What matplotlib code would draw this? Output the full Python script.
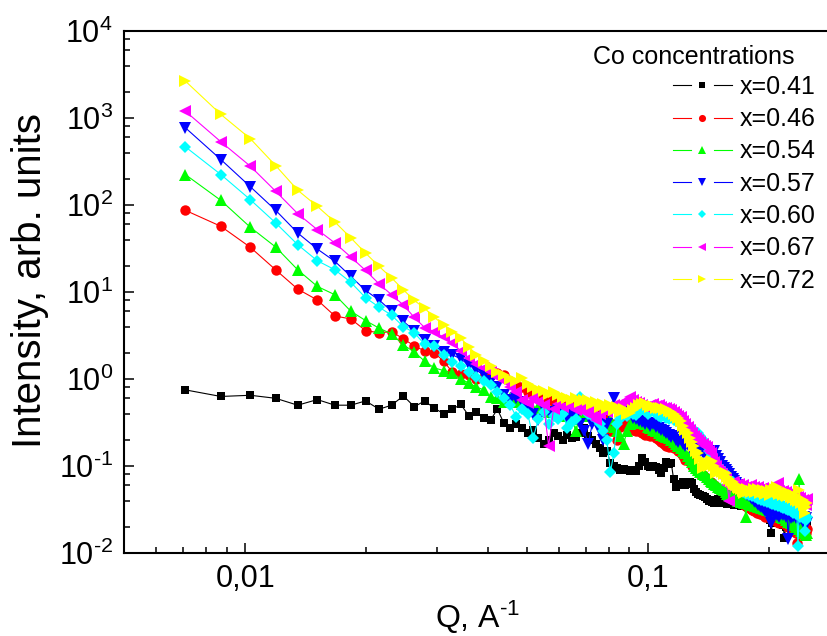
import math
import matplotlib
matplotlib.use("Agg")
import matplotlib.pyplot as plt
from matplotlib.ticker import LogLocator, FixedLocator, FuncFormatter, NullFormatter
from matplotlib.legend_handler import HandlerLine2D
from matplotlib.lines import Line2D

plt.rcParams["font.family"] = ["Liberation Sans", "DejaVu Sans"]
plt.rcParams["mathtext.fontset"] = "custom"
plt.rcParams["mathtext.rm"] = "Liberation Sans"
plt.rcParams["mathtext.it"] = "Liberation Sans"
plt.rcParams["mathtext.default"] = "regular"

# Scattering vector, 1/A
q = [
    0.0071, 0.0087, 0.0103, 0.0119, 0.0135, 0.0151, 0.0167, 0.0183, 0.0199, 0.0215,
    0.0231, 0.0247, 0.0263, 0.0279, 0.0295, 0.0311, 0.0327, 0.0343, 0.0359, 0.0375,
    0.0391, 0.0407, 0.0423, 0.0439, 0.0455, 0.0471, 0.0487, 0.0503, 0.0519, 0.0535,
    0.0551, 0.0567, 0.0583, 0.0599, 0.0615, 0.0631, 0.0647, 0.0663, 0.0679, 0.0695,
    0.0711, 0.0727, 0.0743, 0.0759, 0.0775, 0.0791, 0.0807, 0.0823, 0.0839, 0.0855,
    0.0871, 0.0887, 0.0903, 0.0919, 0.0935, 0.0951, 0.0967, 0.0983, 0.0999, 0.1015,
    0.1031, 0.1047, 0.1063, 0.1079, 0.1095, 0.1111, 0.1127, 0.1143, 0.1159, 0.1175,
    0.1191, 0.1207, 0.1223, 0.1239, 0.1255, 0.1271, 0.1287, 0.1303, 0.1319, 0.1335,
    0.1351, 0.1367, 0.1383, 0.1399, 0.1415, 0.1431, 0.1447, 0.1463, 0.1479, 0.1495,
    0.1511, 0.1527, 0.1543, 0.1559, 0.1575, 0.1591, 0.1607, 0.1623, 0.1639, 0.1655,
    0.1671, 0.1687, 0.1703, 0.1719, 0.1735, 0.1751, 0.1767, 0.1783, 0.1799, 0.1815,
    0.1831, 0.1847, 0.1863, 0.1879, 0.1895, 0.1911, 0.1927, 0.1943, 0.1959, 0.1975,
    0.1991, 0.2007, 0.2023, 0.2039, 0.2055, 0.2071, 0.2087, 0.2103, 0.2119, 0.2135,
    0.2151, 0.2167, 0.2183, 0.2199, 0.2215, 0.2231, 0.2247, 0.2263, 0.2279, 0.2295,
    0.2311, 0.2327, 0.2343, 0.2359, 0.2375, 0.2391, 0.2407, 0.2423, 0.2439, 0.2455,
    0.2471, 0.2487,
]

# Intensity (arb. units) for each Co concentration
i_041 = [
    0.75, 0.63, 0.65, 0.60, 0.50, 0.58, 0.50, 0.50, 0.56, 0.45,
    0.50, 0.64, 0.48, 0.56, 0.46, 0.40, 0.45, 0.51, 0.38, 0.42,
    0.36, 0.34, 0.45, 0.31, 0.27, 0.30, 0.27, 0.24, 0.26, 0.21,
    0.18, 0.20, 0.24, 0.22, 0.20, 0.23, 0.21, 0.215, 0.24, 0.27,
    0.22, 0.20, 0.18, 0.16, 0.14, 0.15, 0.108, 0.10, 0.095, 0.09,
    0.092, 0.09, 0.087, 0.09, 0.087, 0.10, 0.123, 0.11, 0.10, 0.098,
    0.10, 0.097, 0.09, 0.083, 0.095, 0.11, 0.105, 0.108, 0.07, 0.057,
    0.06, 0.062, 0.065, 0.06, 0.062, 0.065, 0.063, 0.055, 0.05, 0.048,
    0.046, 0.045, 0.044, 0.042, 0.04, 0.041, 0.039, 0.038, 0.04, 0.042,
    0.04, 0.038, 0.041, 0.039, 0.037, 0.04, 0.042, 0.038, 0.036, 0.039,
    0.041, 0.037, 0.035, 0.038, 0.04, 0.036, 0.034, 0.037, 0.035, 0.033,
    0.036, 0.034, 0.032, 0.035, 0.033, 0.031, 0.034, 0.032, 0.03, 0.028,
    0.026, 0.024, 0.017, 0.022, 0.025, 0.023, 0.026, 0.024, 0.022, 0.025,
    0.023, 0.021, 0.015, 0.02, 0.024, 0.022, 0.025, 0.023, 0.021, 0.024,
    0.022, 0.025, 0.023, 0.021, 0.024, 0.026, 0.023, 0.025, 0.022, 0.024,
    0.026, 0.023,
]
i_046 = [
    86.9, 56.9, 32.6, 18.0, 10.8, 8.1, 5.3, 4.9, 3.6, 3.4,
    3.5, 2.9, 2.4, 2.1, 2.0, 1.6, 1.2, 1.15, 1.1, 1.0,
    1.05, 1.1, 1.17, 1.1, 0.95, 0.85, 0.8, 0.7, 0.65, 0.62,
    0.6, 0.6, 0.55, 0.5, 0.48, 0.5, 0.45, 0.5, 0.42, 0.38,
    0.45, 0.4, 0.35, 0.42, 0.3, 0.35, 0.25, 0.3, 0.2, 0.28,
    0.32, 0.3, 0.28, 0.26, 0.25, 0.25, 0.24, 0.23, 0.227, 0.22,
    0.23, 0.21, 0.2, 0.19, 0.18, 0.17, 0.165, 0.17, 0.16, 0.165,
    0.15, 0.14, 0.13, 0.117, 0.12, 0.11, 0.1, 0.095, 0.09, 0.085,
    0.08, 0.078, 0.075, 0.07, 0.068, 0.065, 0.062, 0.06, 0.058, 0.055,
    0.053, 0.052, 0.05, 0.048, 0.047, 0.046, 0.044, 0.043, 0.042, 0.041,
    0.04, 0.039, 0.038, 0.037, 0.036, 0.035, 0.034, 0.033, 0.032, 0.031,
    0.03, 0.031, 0.029, 0.03, 0.028, 0.029, 0.027, 0.028, 0.026, 0.027,
    0.026, 0.027, 0.025, 0.026, 0.024, 0.025, 0.023, 0.024, 0.022, 0.023,
    0.024, 0.022, 0.023, 0.021, 0.022, 0.02, 0.021, 0.019, 0.02, 0.018,
    0.019, 0.017, 0.013, 0.018, 0.02, 0.022, 0.019, 0.021, 0.018, 0.02,
    0.017, 0.019,
]
i_054 = [
    224, 113, 55.4, 32.9, 18.0, 11.6, 9.3, 6.0, 4.7, 3.84,
    3.3, 2.46, 2.05, 1.6, 1.34, 1.25, 1.17, 1.0, 0.9, 0.81,
    0.75, 0.62, 0.6, 0.54, 0.6, 0.55, 0.52, 0.5, 0.45, 0.48,
    0.46, 0.42, 0.45, 0.4, 0.43, 0.38, 0.35, 0.25, 0.4, 0.42,
    0.38, 0.4, 0.35, 0.37, 0.33, 0.3, 0.35, 0.28, 0.25, 0.22,
    0.18, 0.25, 0.3, 0.33, 0.35, 0.31, 0.34, 0.3, 0.28, 0.27,
    0.26, 0.25, 0.24, 0.23, 0.22, 0.215, 0.21, 0.2, 0.19, 0.18,
    0.17, 0.16, 0.15, 0.14, 0.13, 0.12, 0.11, 0.1, 0.095, 0.09,
    0.085, 0.08, 0.078, 0.075, 0.07, 0.068, 0.065, 0.062, 0.06, 0.058,
    0.056, 0.055, 0.053, 0.05, 0.048, 0.047, 0.045, 0.044, 0.043, 0.042,
    0.04, 0.041, 0.039, 0.04, 0.038, 0.026, 0.039, 0.037, 0.038, 0.036,
    0.037, 0.035, 0.036, 0.034, 0.035, 0.033, 0.034, 0.032, 0.033, 0.031,
    0.032, 0.03, 0.031, 0.029, 0.03, 0.028, 0.029, 0.027, 0.028, 0.026,
    0.027, 0.025, 0.026, 0.024, 0.025, 0.023, 0.024, 0.022, 0.023, 0.021,
    0.022, 0.02, 0.021, 0.019, 0.07, 0.02, 0.018, 0.019, 0.017, 0.018,
    0.016, 0.017,
]
i_057 = [
    773, 333, 162, 87, 47.7, 31.2, 22.5, 15.1, 10.4, 8.1,
    6.0, 4.6, 3.6, 2.8, 2.4, 2.05, 1.9, 1.7, 1.45, 1.27,
    1.1, 0.95, 0.8, 0.65, 0.57, 0.6, 0.55, 0.45, 0.4, 0.34,
    0.45, 0.42, 0.38, 0.44, 0.4, 0.36, 0.42, 0.38, 0.3, 0.25,
    0.18, 0.3, 0.35, 0.25, 0.2, 0.3, 0.45, 0.6, 0.4, 0.35,
    0.38, 0.42, 0.4, 0.36, 0.35, 0.33, 0.32, 0.3, 0.31, 0.29,
    0.3, 0.28, 0.27, 0.26, 0.25, 0.24, 0.23, 0.215, 0.22, 0.2,
    0.19, 0.2, 0.18, 0.17, 0.175, 0.16, 0.165, 0.155, 0.16, 0.15,
    0.15, 0.14, 0.145, 0.13, 0.14, 0.135, 0.145, 0.15, 0.13, 0.12,
    0.11, 0.1, 0.095, 0.09, 0.085, 0.08, 0.075, 0.07, 0.067, 0.064,
    0.06, 0.058, 0.055, 0.053, 0.05, 0.048, 0.046, 0.045, 0.043, 0.042,
    0.04, 0.039, 0.038, 0.036, 0.035, 0.034, 0.033, 0.032, 0.03, 0.029,
    0.028, 0.027, 0.022, 0.03, 0.028, 0.029, 0.027, 0.028, 0.026, 0.03,
    0.028, 0.027, 0.029, 0.026, 0.028, 0.0146, 0.027, 0.025, 0.028, 0.026,
    0.027, 0.025, 0.028, 0.026, 0.024, 0.027, 0.025, 0.023, 0.026, 0.024,
    0.025, 0.022,
]
i_060 = [
    467, 224, 115, 62.3, 35.0, 22.9, 18.0, 12.9, 8.6, 6.7,
    5.4, 4.0, 3.4, 2.5, 2.4, 1.9, 1.57, 1.4, 1.2, 1.05,
    0.95, 0.85, 0.7, 0.6, 0.5, 0.37, 0.45, 0.4, 0.21, 0.35,
    0.42, 0.3, 0.38, 0.35, 0.4, 0.27, 0.32, 0.35, 0.62, 0.45,
    0.4, 0.38, 0.35, 0.3, 0.25, 0.2, 0.085, 0.14, 0.3, 0.35,
    0.4, 0.38, 0.42, 0.4, 0.385, 0.42, 0.45, 0.43, 0.4, 0.42,
    0.44, 0.4, 0.38, 0.37, 0.39, 0.36, 0.35, 0.37, 0.34, 0.33,
    0.32, 0.3, 0.29, 0.28, 0.27, 0.26, 0.25, 0.26, 0.24, 0.24,
    0.22, 0.2, 0.19, 0.17, 0.15, 0.14, 0.13, 0.12, 0.11, 0.1,
    0.095, 0.09, 0.085, 0.08, 0.075, 0.07, 0.068, 0.065, 0.06, 0.058,
    0.056, 0.055, 0.053, 0.05, 0.052, 0.048, 0.05, 0.047, 0.049, 0.045,
    0.047, 0.044, 0.046, 0.042, 0.045, 0.041, 0.043, 0.04, 0.042, 0.039,
    0.041, 0.038, 0.04, 0.037, 0.039, 0.036, 0.038, 0.035, 0.037, 0.034,
    0.036, 0.033, 0.035, 0.032, 0.034, 0.031, 0.033, 0.03, 0.032, 0.029,
    0.031, 0.028, 0.03, 0.012, 0.029, 0.026, 0.028, 0.025, 0.027, 0.018,
    0.024, 0.026,
]
i_067 = [
    1200, 533, 279, 144, 79.6, 52.1, 36.6, 25.2, 17.7, 12.4,
    9.3, 7.1, 5.1, 3.9, 3.5, 3.0, 2.6, 2.1, 1.74, 1.5,
    1.35, 1.2, 1.05, 0.95, 0.8, 0.7, 0.58, 0.53, 0.6, 0.55,
    0.5, 0.17, 0.45, 0.52, 0.48, 0.5, 0.48, 0.44, 0.47, 0.42,
    0.45, 0.38, 0.34, 0.4, 0.44, 0.42, 0.47, 0.5, 0.46, 0.52,
    0.55, 0.58, 0.62, 0.57, 0.55, 0.53, 0.5, 0.48, 0.476, 0.5,
    0.52, 0.49, 0.5, 0.48, 0.46, 0.47, 0.45, 0.44, 0.42, 0.4,
    0.38, 0.365, 0.33, 0.3, 0.28, 0.26, 0.24, 0.22, 0.21, 0.2,
    0.19, 0.18, 0.17, 0.165, 0.15, 0.14, 0.12, 0.11, 0.1, 0.09,
    0.085, 0.08, 0.075, 0.07, 0.06, 0.04, 0.062, 0.066, 0.064, 0.06,
    0.058, 0.062, 0.057, 0.06, 0.055, 0.058, 0.054, 0.056, 0.06, 0.055,
    0.057, 0.053, 0.055, 0.058, 0.052, 0.054, 0.056, 0.05, 0.053, 0.055,
    0.052, 0.054, 0.05, 0.053, 0.051, 0.049, 0.06, 0.064, 0.052, 0.05,
    0.048, 0.051, 0.047, 0.05, 0.046, 0.048, 0.045, 0.047, 0.044, 0.046,
    0.043, 0.045, 0.042, 0.044, 0.04, 0.043, 0.039, 0.041, 0.038, 0.04,
    0.036, 0.042,
]
i_072 = [
    2660, 1100, 577, 284, 148, 96.6, 63.8, 41.8, 28.0, 19.7,
    14.5, 10.6, 8.0, 6.5, 5.1, 4.2, 3.5, 2.95, 2.35, 1.9,
    1.6, 1.4, 1.2, 1.1, 1.0, 0.95, 1.02, 0.88, 0.8, 0.75,
    0.72, 0.68, 0.70, 0.66, 0.62, 0.60, 0.57, 0.61, 0.55, 0.58,
    0.57, 0.52, 0.55, 0.48, 0.51, 0.46, 0.50, 0.44, 0.48, 0.42,
    0.45, 0.40, 0.41, 0.44, 0.47, 0.50, 0.52, 0.53, 0.50, 0.48,
    0.49, 0.47, 0.46, 0.47, 0.44, 0.45, 0.43, 0.42, 0.40, 0.38,
    0.36, 0.33, 0.29, 0.26, 0.24, 0.21, 0.19, 0.17, 0.15, 0.14,
    0.12, 0.095, 0.11, 0.105, 0.10, 0.11, 0.115, 0.10, 0.083, 0.09,
    0.088, 0.085, 0.08, 0.083, 0.075, 0.07, 0.068, 0.065, 0.062, 0.06,
    0.058, 0.056, 0.055, 0.052, 0.049, 0.053, 0.055, 0.051, 0.05, 0.052,
    0.054, 0.05, 0.052, 0.055, 0.049, 0.051, 0.053, 0.05, 0.048, 0.052,
    0.05, 0.047, 0.053, 0.049, 0.051, 0.055, 0.057, 0.05, 0.048, 0.052,
    0.049, 0.046, 0.05, 0.047, 0.045, 0.049, 0.049, 0.044, 0.047, 0.043,
    0.046, 0.041, 0.044, 0.04, 0.053, 0.042, 0.038, 0.041, 0.036, 0.029,
    0.034, 0.038,
]

labels = ["x=0.41", "x=0.46", "x=0.54", "x=0.57", "x=0.60", "x=0.67", "x=0.72"]
series = [i_041, i_046, i_054, i_057, i_060, i_067, i_072]
colors = ["#000000", "#ff0000", "#00ff00", "#0000ff", "#00ffff", "#ff00ff", "#ffff00"]
markers = ["s", "o", "^", "v", "D", "<", ">"]
sizes = [6.0, 7.5, 8.5, 8.5, 6.5, 8.5, 8.5]

x_ticks = [0.01, 0.1]
x_ticklabels = ["0,01", "0,1"]
y_ticks = [1e-2, 1e-1, 1e0, 1e1, 1e2, 1e3, 1e4]

W, H = 827, 636
fig = plt.figure(figsize=(W / 100, H / 100), dpi=100)
ax = fig.add_axes([124 / W, 83 / H, 716 / W, 522 / H])

for y, lab, c, m, ms in zip(series, labels, colors, markers, sizes):
    assert len(y) == len(q)
    ax.plot(q, y, color=c, lw=0.8, marker=m, ms=ms, mew=0, label=lab)

ax.set_xscale("log")
ax.set_yscale("log")
ax.set_xlim(0.005, 0.3)
ax.set_ylim(1e-2, 1e4)

ax.xaxis.set_major_locator(FixedLocator(x_ticks))
ax.set_xticklabels(x_ticklabels)
ax.xaxis.set_minor_locator(LogLocator(base=10, subs=[2, 3, 4, 5, 6, 7, 8, 9], numticks=20))
ax.xaxis.set_minor_formatter(NullFormatter())


def pow10_label(v, pos):
    e = int(round(math.log10(v)))
    if e < 0:
        return r"$10^{\text{-}%d}$" % (-e)
    return r"$10^{%d}$" % e


ax.yaxis.set_major_locator(FixedLocator(y_ticks))
ax.yaxis.set_major_formatter(FuncFormatter(pow10_label))
ax.yaxis.set_minor_locator(LogLocator(base=10, subs=[2, 4, 6, 8], numticks=20))
ax.yaxis.set_minor_formatter(NullFormatter())

for s in ax.spines.values():
    s.set_linewidth(1.5)
ax.tick_params(which="both", direction="in", top=False, right=False, width=1.1, labelsize=22, pad=8)
ax.tick_params(which="major", length=7.5)
ax.tick_params(which="minor", length=4)

fig.text(30 / W, 1 - 280 / H, "Intensity, arb. units", rotation=90, ha="center", va="center", fontsize=29)
fig.text(478 / W, 1 - 628 / H, r"Q, A$^{\text{-}1}$", ha="center", va="baseline", fontsize=23)


class GapLineHandler(HandlerLine2D):
    """Legend key drawn as a line broken around a centred marker."""

    def create_artists(self, legend, orig_handle, xdescent, ydescent, width, height, fontsize, trans):
        yc = height / 2 - ydescent
        xc = width / 2 - xdescent
        gap = 0.19 * width
        left = Line2D([-xdescent, xc - gap], [yc, yc], color=orig_handle.get_color(), lw=0.8)
        right = Line2D([xc + gap, width - xdescent], [yc, yc], color=orig_handle.get_color(), lw=0.8)
        mark = Line2D([xc], [yc], ls="None", marker=orig_handle.get_marker(),
                      ms=orig_handle.get_markersize() * 0.68, color=orig_handle.get_color(), mew=0)
        for a in (left, right, mark):
            a.set_transform(trans)
        return [left, right, mark]


fig.text(694 / W, 1 - 57 / H, "Co concentrations", ha="center", va="center", fontsize=18)
leg = ax.legend(loc="upper left", bbox_to_anchor=(673 / W, 1 - 75 / H), bbox_transform=fig.transFigure,
                frameon=False, fontsize=18, borderpad=0, borderaxespad=0, handlelength=2.35,
                handletextpad=0.3, labelspacing=0.33, handler_map={Line2D: GapLineHandler()})

fig.savefig("out.png", dpi=100)
